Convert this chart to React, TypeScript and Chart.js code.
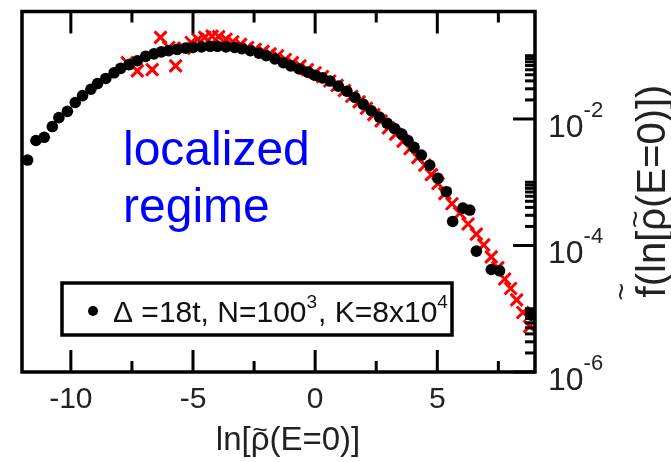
import React, { useEffect, useRef } from 'react';
import { Chart, registerables } from 'chart.js';

Chart.register(...registerables);

// ---- data ----
const blackX = [-11.77, -11.43, -11.09, -10.76, -10.49, -10.14, -9.82, -9.52, -9.18, -8.91, -8.57, -8.23, -7.96, -7.62, -7.28, -6.94, -6.6, -6.3, -6.0, -5.65, -5.3, -5.0, -4.65, -4.3, -4.0, -3.65, -3.3, -3.0, -2.65, -2.3, -2.0, -1.65, -1.3, -1.0, -0.65, -0.3, 0.0, 0.3, 0.61, 0.95, 1.3, 1.63, 1.97, 2.3, 2.63, 2.95, 3.25, 3.55, 3.8, 4.05, 4.35, 4.69, 5.03, 5.37, 5.63, 6.05, 6.33, 6.6, 7.21, 7.55, 8.85];
const blackY = [2.24e-3, 4.57e-3, 5.13e-3, 7.59e-3, 1.05e-2, 1.32e-2, 1.82e-2, 2.34e-2, 2.95e-2, 3.63e-2, 4.37e-2, 5.37e-2, 6.31e-2, 7.24e-2, 8.32e-2, 9.77e-2, 0.107, 0.115, 0.120, 0.126, 0.132, 0.135, 0.138, 0.141, 0.141, 0.138, 0.135, 0.129, 0.120, 0.110, 0.100, 8.91e-2, 7.76e-2, 6.92e-2, 6.17e-2, 5.50e-2, 4.90e-2, 4.47e-2, 3.98e-2, 3.31e-2, 2.75e-2, 2.19e-2, 1.70e-2, 1.35e-2, 1.07e-2, 8.51e-3, 7.08e-3, 5.75e-3, 4.57e-3, 3.55e-3, 2.69e-3, 1.86e-3, 1.15e-3, 7.08e-4, 2.40e-4, 3.89e-4, 3.63e-4, 8.13e-5, 4.17e-5, 3.98e-5, 7.94e-6];

const redX = [-7.69, -7.28, -6.67, -6.33, -5.99, -5.71, -5.37, -5.07, -4.8, -4.52, -4.22, -3.95, -3.65, -3.37, -3.05, -2.76, -2.45, -2.13, -1.84, -1.54, -1.22, -0.93, -0.62, -0.32, 0.0, 0.3, 0.6, 0.9, 1.2, 1.5, 1.8, 2.1, 2.4, 2.7, 3.0, 3.3, 3.6, 3.88, 4.2, 4.49, 4.76, 5.03, 5.31, 5.6, 5.92, 6.26, 6.6, 6.9, 7.21, 7.48, 7.76, 8.0, 8.25, 8.5, 8.78];
const redY = [7.76e-2, 5.75e-2, 6.03e-2, 0.195, 0.135, 6.92e-2, 0.132, 0.162, 0.182, 0.195, 0.204, 0.200, 0.182, 0.166, 0.151, 0.135, 0.126, 0.117, 0.107, 0.100, 8.71e-2, 7.76e-2, 6.92e-2, 6.03e-2, 5.37e-2, 4.68e-2, 3.98e-2, 3.39e-2, 2.82e-2, 2.29e-2, 1.86e-2, 1.48e-2, 1.17e-2, 9.33e-3, 7.24e-3, 5.75e-3, 4.47e-3, 3.39e-3, 2.45e-3, 1.86e-3, 1.32e-3, 9.55e-4, 6.61e-4, 4.57e-4, 3.24e-4, 2.19e-4, 1.51e-4, 1.02e-4, 6.61e-5, 4.47e-5, 2.95e-5, 2.09e-5, 1.38e-5, 8.71e-6, 5.25e-6];

const xMajorTicks = [-10, -5, 0, 5];
const xMajorLabels = ['-10', '-5', '0', '5'];
const xMinorTicks = [-7.5, -2.5, 2.5, 7.5];
const yMajorTicks = [1e-2, 1e-4, 1e-6];
const yMajorExponents = ['-2', '-4', '-6'];
const yMinorMultipliers = [2, 3, 4, 5, 6, 7, 8, 9, 10];

// titles: pieces, with "tilde" marking the glyph that carries a tilde
const xTitleParts = [
  { text: 'ln[', tilde: false },
  { text: '\u03C1', tilde: true },
  { text: '(E=0)]', tilde: false },
];
const yTitleParts = [
  { text: 'f', tilde: true },
  { text: '(ln[', tilde: false },
  { text: '\u03C1', tilde: true },
  { text: '(E=0)])', tilde: false },
];
const annotationLines = ['localized', 'regime'];
const legendParts = [
  { text: '\u0394 =18t, N=100', sup: false },
  { text: '3', sup: true },
  { text: ', K=8x10', sup: false },
  { text: '4', sup: true },
];

const FONT = '"Liberation Sans", Arial, Helvetica, sans-serif';

function drawRich(ctx: CanvasRenderingContext2D, parts: { text: string; sup: boolean }[], x: number, y: number, size: number, supSize: number, rise: number) {
  let cx = x;
  for (const p of parts) {
    ctx.font = `${p.sup ? supSize : size}px ${FONT}`;
    ctx.fillText(p.text, cx, p.sup ? y - rise : y);
    cx += ctx.measureText(p.text).width + (p.sup ? 1 : 0);
  }
}

function drawTildeText(
  ctx: CanvasRenderingContext2D,
  parts: { text: string; tilde: boolean }[],
  cx: number,
  y: number,
  size: number,
  tildeSize: number,
  tildeRise: (t: string) => number
) {
  ctx.font = `${size}px ${FONT}`;
  const widths = parts.map((p) => ctx.measureText(p.text).width);
  const total = widths.reduce((a, b) => a + b, 0);
  let x = cx - total / 2;
  ctx.textAlign = 'left';
  parts.forEach((p, i) => {
    ctx.font = `${size}px ${FONT}`;
    ctx.fillText(p.text, x, y);
    if (p.tilde) {
      ctx.font = `${tildeSize}px ${FONT}`;
      ctx.textAlign = 'center';
      ctx.fillText('~', x + widths[i] / 2, y - tildeRise(p.text));
      ctx.textAlign = 'left';
    }
    x += widths[i];
  });
}

const framePlugin = {
  id: 'framePlugin',
  afterDatasetsDraw(chart: any) {
    const ctx: CanvasRenderingContext2D = chart.ctx;
    const { left, right, top, bottom } = chart.chartArea;
    const xs = chart.scales.x;
    const ys = chart.scales.y;
    ctx.save();
    ctx.strokeStyle = '#000';
    ctx.lineCap = 'butt';

    // ticks
    ctx.lineWidth = 3;
    const vtick = (v: number, len: number) => {
      const px = xs.getPixelForValue(v);
      ctx.beginPath();
      ctx.moveTo(px, bottom);
      ctx.lineTo(px, bottom - len);
      ctx.moveTo(px, top);
      ctx.lineTo(px, top + len);
      ctx.stroke();
    };
    xMajorTicks.forEach((v) => vtick(v, 22));
    xMinorTicks.forEach((v) => vtick(v, 11));
    const htick = (v: number, len: number) => {
      const py = ys.getPixelForValue(v);
      if (py < top - 0.5 || py > bottom + 0.5) return;
      ctx.beginPath();
      ctx.moveTo(right, py);
      ctx.lineTo(right - len, py);
      ctx.stroke();
    };
    yMajorTicks.forEach((m) => {
      htick(m, 22);
      yMinorMultipliers.forEach((k) => htick(m * k, 10));
    });

    // frame (no ticks on the left side)
    ctx.lineWidth = 3.5;
    ctx.strokeRect(left, top, right - left, bottom - top);

    // x tick labels
    ctx.fillStyle = '#222';
    ctx.font = `30px ${FONT}`;
    ctx.textAlign = 'center';
    ctx.textBaseline = 'alphabetic';
    xMajorTicks.forEach((v, i) => {
      ctx.fillText(xMajorLabels[i], xs.getPixelForValue(v), 408);
    });

    // y tick labels (right side, 10^n)
    ctx.textAlign = 'left';
    yMajorTicks.forEach((v, i) => {
      const py = ys.getPixelForValue(v);
      drawRich(ctx, [{ text: '10', sup: false }, { text: yMajorExponents[i], sup: true }], right + 13, py + 18, 32, 22, 20);
    });

    // axis titles
    drawTildeText(ctx, xTitleParts, 288, 450, 33, 26, () => 12);
    ctx.save();
    ctx.translate(665, 191);
    ctx.rotate(-Math.PI / 2);
    drawTildeText(ctx, yTitleParts, 0, 0, 40, 30, (t) => (t === 'f' ? 34 : 20));
    ctx.restore();

    // annotation
    ctx.fillStyle = '#0000ff';
    ctx.font = `48px ${FONT}`;
    ctx.textAlign = 'left';
    ctx.fillText(annotationLines[0], 123, 165);
    ctx.fillText(annotationLines[1], 123, 222);

    // legend box
    ctx.fillStyle = '#fff';
    ctx.fillRect(62, 283, 390, 52);
    ctx.lineWidth = 3.5;
    ctx.strokeStyle = '#000';
    ctx.strokeRect(62, 283, 390, 52);
    ctx.fillStyle = '#000';
    ctx.beginPath();
    ctx.arc(93, 311, 5, 0, Math.PI * 2);
    ctx.fill();
    ctx.fillStyle = '#111';
    drawRich(ctx, legendParts, 113, 322, 30, 19, 14);

    ctx.restore();
  },
};

export default function App() {
  const ref = useRef<HTMLCanvasElement | null>(null);
  useEffect(() => {
    if (!ref.current) return;
    const chart = new Chart(ref.current, {
      type: 'scatter',
      data: {
        datasets: [
          {
            label: 'black',
            data: blackX.map((x, i) => ({ x, y: blackY[i] })),
            pointStyle: 'circle',
            pointRadius: 5.8,
            backgroundColor: '#000',
            borderColor: '#000',
            borderWidth: 0,
            clip: 0,
          },
          {
            label: 'red',
            data: redX.map((x, i) => ({ x, y: redY[i] })),
            pointStyle: 'crossRot',
            pointRadius: 8.5,
            borderColor: '#ff0000',
            backgroundColor: '#ff0000',
            borderWidth: 3,
            clip: 0,
          },
        ],
      } as any,
      options: {
        animation: false,
        responsive: false,
        devicePixelRatio: 1,
        layout: { padding: { left: 22, top: 10, right: 136, bottom: 90 } },
        scales: {
          x: { type: 'linear', min: -12, max: 9, display: false },
          y: { type: 'logarithmic', min: 1e-6, max: 0.5, display: false },
        },
        plugins: { legend: { display: false }, tooltip: { enabled: false } },
      } as any,
      plugins: [framePlugin],
    });
    return () => chart.destroy();
  }, []);
  return (
    <div style={{ position: 'fixed', left: 0, top: 0, width: 671, height: 462, background: '#fff' }}>
      <canvas ref={ref} width={671} height={462} style={{ display: 'block' }} />
    </div>
  );
}
